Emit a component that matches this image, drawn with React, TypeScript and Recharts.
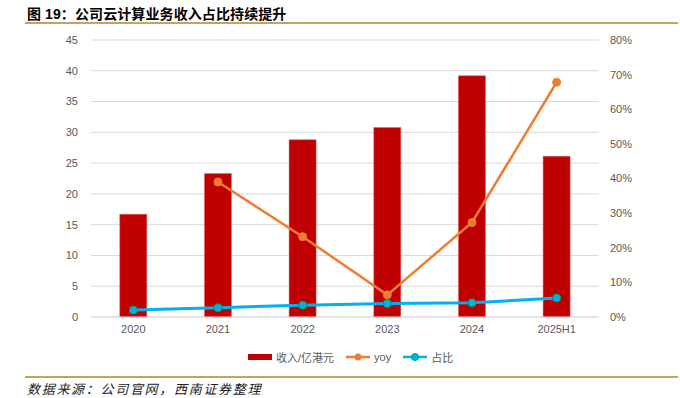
import React from "react";
import { ComposedChart, Bar, Line, XAxis, YAxis, CartesianGrid } from "recharts";

const categories = ["2020", "2021", "2022", "2023", "2024", "2025H1"];
const revenue = [16.7, 23.3, 28.8, 30.8, 39.2, 26.1];
const yoy = [null, 39.0, 23.2, 6.4, 27.3, 67.8];
const share = [2.0, 2.7, 3.4, 3.9, 4.1, 5.5];
const leftTicks = [0, 5, 10, 15, 20, 25, 30, 35, 40, 45];
const rightTicks = [0, 10, 20, 30, 40, 50, 60, 70, 80];

const seriesNames = { revenue: "收入/亿港元", yoy: "yoy", share: "占比" };
const titleText = "图 19：公司云计算业务收入占比持续提升";
const sourceText = "数据来源：公司官网，西南证券整理";

const data = categories.map((c, i) => ({
  name: c,
  revenue: revenue[i],
  yoy: yoy[i],
  share: share[i],
}));

const FONT = '"Liberation Sans", Arial, "Noto Sans CJK SC", sans-serif';
const TICK = { fontSize: 11, fill: "#595959", fontFamily: FONT };

export default function App() {
  return (
    <div style={{ position: "absolute", left: 0, top: 0, width: 680, height: 398, background: "#fff", fontFamily: FONT }}>
      <div style={{ position: "absolute", left: 27, top: 3, fontSize: 14, fontWeight: "bold", color: "#000", fontFamily: FONT, letterSpacing: 0.1 }}>
        {titleText}
      </div>
      <div style={{ position: "absolute", left: 25, top: 22, width: 653, height: 2, background: "#c9a063" }} />
      <div style={{ position: "absolute", left: 0, top: 0 }}>
        <ComposedChart width={680} height={398} data={data} margin={{ top: 40, right: 0, bottom: 51, left: 0 }} barCategoryGap="34%">
          <CartesianGrid vertical={false} stroke="#d9d9d9" strokeWidth={1} yAxisId="left" />
          <XAxis dataKey="name" tickLine={false} axisLine={{ stroke: "#d9d9d9" }} tick={TICK} tickSize={0} tickMargin={8} height={30} interval={0} />
          <YAxis yAxisId="left" orientation="left" width={91} domain={[0, 45]} ticks={leftTicks} tickLine={false} axisLine={false} tickSize={0} tickMargin={13} tick={TICK} interval={0} />
          <YAxis yAxisId="right" orientation="right" width={81} domain={[0, 80]} ticks={rightTicks} tickLine={false} axisLine={false} tickSize={0} tickMargin={11} tick={{ ...TICK, textAnchor: "start" }} tickFormatter={(v) => `${v}%`} interval={0} />
          <Bar yAxisId="left" dataKey="revenue" name={seriesNames.revenue} fill="#c00000" stroke="#e06060" strokeWidth={0.5} isAnimationActive={false} />
          <Line yAxisId="right" type="linear" dataKey="yoy" name={seriesNames.yoy} stroke="#ed7d31" strokeWidth={2.5} dot={{ r: 4, fill: "#ed7d31", stroke: "#ed7d31", strokeWidth: 1 }} connectNulls={false} isAnimationActive={false} />
          <Line yAxisId="right" type="linear" dataKey="share" name={seriesNames.share} stroke="#00b0f0" strokeWidth={3} dot={{ r: 4, fill: "#00b0f0", stroke: "#00a050", strokeWidth: 1 }} isAnimationActive={false} />
        </ComposedChart>
      </div>
      <div style={{ position: "absolute", left: 248, top: 349, height: 16, display: "flex", alignItems: "center", fontSize: 11, color: "#595959" }}>
        <svg width={25} height={16} style={{ display: "block" }}><rect x={0} y={5} width={24} height={6} fill="#c00000" /></svg>
        <span style={{ marginLeft: 3 }}>{seriesNames.revenue}</span>
        <svg width={25} height={16} style={{ display: "block", marginLeft: 12 }}>
          <line x1={0} y1={8} x2={24} y2={8} stroke="#ed7d31" strokeWidth={2.5} />
          <circle cx={12} cy={8} r={3.5} fill="#ed7d31" />
        </svg>
        <span style={{ marginLeft: 3 }}>{seriesNames.yoy}</span>
        <svg width={25} height={16} style={{ display: "block", marginLeft: 12 }}>
          <line x1={0} y1={8} x2={24} y2={8} stroke="#00b0f0" strokeWidth={2.5} />
          <circle cx={12} cy={8} r={3.5} fill="#00b0f0" stroke="#00a050" strokeWidth={1} />
        </svg>
        <span style={{ marginLeft: 3 }}>{seriesNames.share}</span>
      </div>
      <div style={{ position: "absolute", left: 25, top: 376, width: 653, height: 2, background: "#c9a063" }} />
      <div style={{ position: "absolute", left: 27, top: 379, fontSize: 13, fontStyle: "italic", color: "#222", letterSpacing: 1.7, fontFamily: '"Noto Sans CJK SC", sans-serif' }}>
        {sourceText}
      </div>
    </div>
  );
}
